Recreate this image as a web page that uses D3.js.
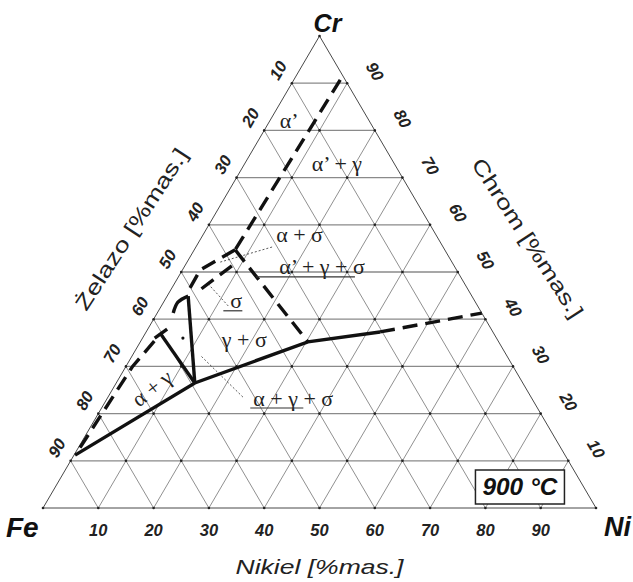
<!DOCTYPE html>
<html>
<head>
<meta charset="utf-8">
<script src="https://cdn.jsdelivr.net/npm/d3@7"></script>
<style>
  body { margin: 0; background: #fff; }
  text { font-family: "Liberation Sans", Arial, sans-serif; }
  .phase { font-family: "Liberation Serif", "Times New Roman", serif; font-size: 22px; fill: #222; }
</style>
</head>
<body>
<svg id="chart" width="633" height="582"></svg>
<script>
// grid steps, wt%
const ticks = [10, 20, 30, 40, 50, 60, 70, 80, 90];

// phase boundaries, every point is [Ni, Cr] in wt% (Fe = rest)
const solidMain = [[0.2, 11.2], [14.2, 26.5], [30.3, 35.2], [42.3, 37.3]];
const dashedMain = [[42.3, 37.3], [58.7, 41.3]];
const solidGamma = [[14.2, 26.5], [3.8, 44.9]];
const solidArc = [[2.9, 41.3], [2.6, 43.6], [3.8, 44.9]];
const solidLeft = [[14.2, 26.5], [2.6, 37.1]];
const solidTick = [[2.2, 36.0], [3.5, 37.9]];
const dashedLeft = [[0.3, 12.8], [1.2, 30.0], [2.6, 36.0]];
const dashedAlpha = [[8.4, 90.7], [7.4, 54.7]];
const dashedUpper = [[7.4, 54.7], [3.2, 50.4], [3.3, 45.8]];
const dashedInner = [[8.5, 51.3], [4.9, 45.6]];
const dashedSigma = [[7.4, 54.7], [30.3, 35.2]];
const leaders = [
  [[6.0, 52.1], [13.8, 55.3]],
  [[12.1, 42.8], [6.1, 47.5]],
  [[24.4, 23.5], [12.2, 32.4]]
];
const gammaDot = [7.3, 36.0];

// phase field labels
const phaseLabels = ["α’", "α’ + γ", "α + σ", "α’ + γ + σ", "σ", "γ + σ", "α + γ", "α + γ + σ"];
const labelNi = [3.5, 16.7, 17.4, 24.9, 13.0, 18.6, 7.0, 33.6];
const labelCr = [82.0, 72.9, 58.0, 51.1, 43.9, 35.6, 25.4, 23.3];

const svg = d3.select("#chart");

// horizontal position from Ni + Cr/2, vertical from Cr
const x = d3.scaleLinear().domain([0, 100]).range([43, 596]);
const y = d3.scaleLinear().domain([0, 100]).range([508, 36]);
const px = d => x(d[0] + d[1] / 2);
const py = d => y(d[1]);
const line = d3.line().x(px).y(py);

const grid = svg.append("g");

// constant Cr (horizontal) lines
ticks.forEach(t => {
  grid.append("path")
    .attr("d", line([[0, t], [100 - t, t]]))
    .attr("stroke", "#8a8a8a").attr("stroke-width", 1.3).attr("fill", "none");
});
// constant Ni and constant Fe lines
ticks.forEach(t => {
  grid.append("path")
    .attr("d", line([[t, 0], [t, 100 - t]]))
    .attr("stroke", "#444").attr("stroke-width", 0.6).attr("fill", "none");
  grid.append("path")
    .attr("d", line([[100 - t, 0], [0, 100 - t]]))
    .attr("stroke", "#444").attr("stroke-width", 0.6).attr("fill", "none");
});

// outline
grid.append("path")
  .attr("d", line([[0, 0], [100, 0], [0, 100]]) + "Z")
  .attr("stroke", "#333").attr("stroke-width", 0.9).attr("fill", "none");

// node dots
const nodes = [];
for (let ni = 0; ni <= 100; ni += 10) {
  for (let cr = 0; cr <= 100 - ni; cr += 10) nodes.push([ni, cr]);
}
grid.selectAll("circle.node").data(nodes).enter().append("circle")
  .attr("class", "node")
  .attr("cx", px).attr("cy", py).attr("r", 1.3).attr("fill", "#222");

// phase boundaries
const bounds = svg.append("g").attr("fill", "none").attr("stroke", "#111");
[solidMain, solidGamma, solidLeft, solidTick].forEach(p => {
  bounds.append("path").attr("d", line(p)).attr("stroke-width", 3.4);
});
bounds.append("path")
  .attr("d", d3.line().x(px).y(py).curve(d3.curveNatural)(solidArc))
  .attr("stroke-width", 3.4);
[dashedMain, dashedLeft, dashedAlpha, dashedUpper, dashedInner, dashedSigma].forEach(p => {
  bounds.append("path").attr("d", line(p))
    .attr("stroke-width", 3.4).attr("stroke-dasharray", "15 8");
});
leaders.forEach(p => {
  bounds.append("path").attr("d", line(p))
    .attr("stroke-width", 0.7).attr("stroke-dasharray", "2 2");
});
svg.append("circle").attr("cx", px(gammaDot)).attr("cy", py(gammaDot)).attr("r", 1.6).attr("fill", "#111");

// phase labels
const underline = { 3: [-23, -10], 4: [-7, 0], 7: [-3, -30] };
phaseLabels.forEach((lab, i) => {
  const cx = px([labelNi[i], labelCr[i]]);
  const cy = py([labelNi[i], labelCr[i]]);
  const t = svg.append("text").attr("class", "phase")
    .attr("x", cx).attr("y", cy)
    .attr("text-anchor", "middle").attr("dominant-baseline", "central")
    .attr("transform", i === 6 ? `rotate(-38,${cx},${cy})` : null)
    .text(lab);
  if (underline[i]) {
    const b = t.node().getBBox();
    svg.append("line")
      .attr("x1", b.x + underline[i][0]).attr("x2", b.x + b.width + underline[i][1])
      .attr("y1", cy + 10).attr("y2", cy + 10)
      .attr("stroke", "#333").attr("stroke-width", 1.2);
  }
});

// tick labels
const tickStyle = sel => sel
  .attr("font-size", 16.5).attr("font-weight", "bold").attr("font-style", "italic")
  .attr("fill", "#222").attr("text-anchor", "middle").attr("dominant-baseline", "central");

ticks.forEach(t => {
  // Ni along the bottom
  const bx = px([t, 0]), by = py([t, 0]) + 22;
  svg.append("text").call(tickStyle).attr("x", bx).attr("y", by).text(t);
  // Fe along the left edge (Fe = t where Cr = 100 - t)
  const lx = px([0, 100 - t]) - 14, ly = py([0, 100 - t]) - 13;
  svg.append("text").call(tickStyle).attr("x", lx).attr("y", ly)
    .attr("transform", `rotate(-60,${lx},${ly})`).text(t);
  // Cr along the right edge
  const rx = px([100 - t, t]) + 28, ry = py([100 - t, t]) - 12;
  svg.append("text").call(tickStyle).attr("x", rx).attr("y", ry)
    .attr("transform", `rotate(60,${rx},${ry})`).text(t);
});

// corner labels
const corner = sel => sel.attr("font-weight", "bold").attr("font-style", "italic").attr("fill", "#111");
svg.append("text").call(corner).attr("font-size", 28)
  .attr("x", px([0, 0]) - 37).attr("y", py([0, 0]) + 29).text("Fe");
svg.append("text").call(corner).attr("font-size", 27)
  .attr("x", px([100, 0]) + 8).attr("y", py([100, 0]) + 28).text("Ni");
svg.append("text").call(corner).attr("font-size", 25).attr("text-anchor", "middle")
  .attr("x", px([0, 100]) + 8).attr("y", py([0, 100]) - 4).text("Cr");

// axis titles
const titleL = [px([0, 50]) - 50, py([0, 50]) - 43];
svg.append("text").attr("font-size", 21).attr("fill", "#222")
  .attr("text-anchor", "middle").attr("dominant-baseline", "central")
  .attr("x", titleL[0]).attr("y", titleL[1])
  .attr("textLength", 188).attr("lengthAdjust", "spacingAndGlyphs")
  .attr("transform", `rotate(-57,${titleL[0]},${titleL[1]})`)
  .text("Żelazo [%mas.]");

const titleR = [px([50, 50]) + 70, py([50, 50]) - 34];
svg.append("text").attr("font-size", 21).attr("fill", "#222")
  .attr("text-anchor", "middle").attr("dominant-baseline", "central")
  .attr("x", titleR[0]).attr("y", titleR[1])
  .attr("textLength", 186).attr("lengthAdjust", "spacingAndGlyphs")
  .attr("transform", `rotate(57,${titleR[0]},${titleR[1]})`)
  .text("Chrom [%mas.]");

svg.append("text").attr("font-size", 21).attr("font-style", "italic").attr("fill", "#222")
  .attr("text-anchor", "middle")
  .attr("x", px([50, 0])).attr("y", py([50, 0]) + 66)
  .attr("textLength", 168).attr("lengthAdjust", "spacingAndGlyphs")
  .text("Nikiel [%mas.]");

// temperature box
const boxX = px([78.2, 0]), boxY = py([0, 0]) - 38;
svg.append("rect")
  .attr("x", boxX).attr("y", boxY).attr("width", 89).attr("height", 34)
  .attr("fill", "#fff").attr("stroke", "#222").attr("stroke-width", 1.5);
svg.append("text").attr("font-size", 23).attr("font-weight", "bold").attr("font-style", "italic")
  .attr("fill", "#111").attr("text-anchor", "middle")
  .attr("x", boxX + 44.5).attr("y", boxY + 25)
  .attr("textLength", 75).attr("lengthAdjust", "spacingAndGlyphs")
  .text("900 °C");
</script>
</body>
</html>
